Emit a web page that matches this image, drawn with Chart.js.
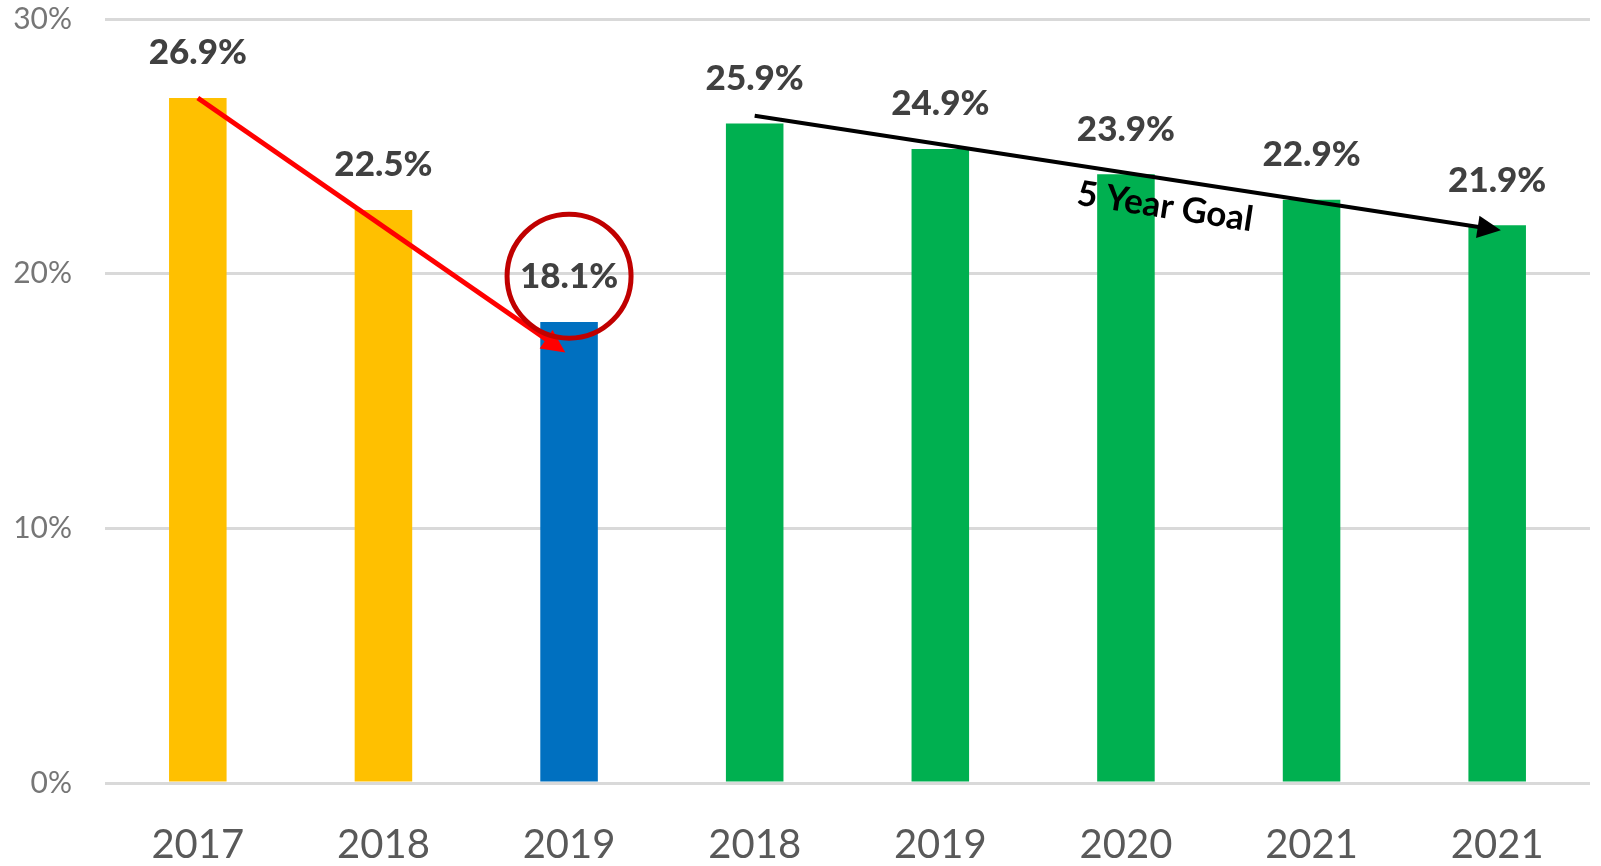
<!DOCTYPE html>
<html>
<head>
<meta charset="utf-8">
<script src="https://cdn.jsdelivr.net/npm/chart.js@4.4.1/dist/chart.umd.min.js"></script>
<style>
  html, body { margin: 0; padding: 0; background: #fff; }
  #wrap { position: relative; width: 1601px; height: 866px; }
</style>
</head>
<body>
<div id="wrap"><canvas id="chart"></canvas></div>
<script>
// categories and values
const years = ["2017", "2018", "2019", "2018", "2019", "2020", "2021", "2021"];
const rates = [26.9, 22.5, 18.1, 25.9, 24.9, 23.9, 22.9, 21.9];
const barColors = ["#FFC000", "#FFC000", "#0070C0", "#00B050", "#00B050", "#00B050", "#00B050", "#00B050"];
const yTicks = [0, 10, 20, 30];

// annotation endpoints, in (category index, value)
const dropArrow = { from: [0, 26.9], to: [1.98, 16.9] };
const goalArrow = { from: [3, 26.2], to: [7.02, 21.7] };
const circleAt = [2, 19.9];
const goalText = "5 Year Goal";

function arrow(ctx, x1, y1, x2, y2, color, width, head) {
  const a = Math.atan2(y2 - y1, x2 - x1);
  ctx.save();
  ctx.strokeStyle = color;
  ctx.fillStyle = color;
  ctx.lineWidth = width;
  ctx.beginPath();
  ctx.moveTo(x1, y1);
  ctx.lineTo(x2 - Math.cos(a) * head * 0.8, y2 - Math.sin(a) * head * 0.8);
  ctx.stroke();
  ctx.beginPath();
  ctx.moveTo(x2, y2);
  ctx.lineTo(x2 - head * Math.cos(a - 0.45), y2 - head * Math.sin(a - 0.45));
  ctx.lineTo(x2 - head * Math.cos(a + 0.45), y2 - head * Math.sin(a + 0.45));
  ctx.closePath();
  ctx.fill();
  ctx.restore();
}

const labelsPlugin = {
  id: "valueLabels",
  afterDatasetsDraw(chart) {
    const ctx = chart.ctx;
    const meta = chart.getDatasetMeta(0);
    ctx.save();
    ctx.font = "900 35px Lato";
    ctx.fillStyle = "#404040";
    ctx.textAlign = "center";
    ctx.textBaseline = "middle";
    meta.data.forEach((bar, i) => {
      ctx.fillText(rates[i].toFixed(1) + "%", bar.x, bar.y - 45);
    });
    ctx.restore();
  }
};

const annotationPlugin = {
  id: "annotations",
  afterDraw(chart) {
    const ctx = chart.ctx;
    const xs = chart.scales.x, ys = chart.scales.y;
    const px = (p) => [xs.getPixelForValue(p[0]), ys.getPixelForValue(p[1])];

    // red drop arrow
    const [a1, b1] = px(dropArrow.from), [a2, b2] = px(dropArrow.to);
    arrow(ctx, a1, b1, a2, b2, "#FF0000", 5, 26);

    // circle around 2019 value
    const [cx, cy] = px(circleAt);
    ctx.save();
    ctx.strokeStyle = "#C00000";
    ctx.lineWidth = 5;
    ctx.beginPath();
    ctx.arc(cx, cy, 62, 0, Math.PI * 2);
    ctx.stroke();
    ctx.restore();

    // goal arrow
    const [g1, h1] = px(goalArrow.from), [g2, h2] = px(goalArrow.to);
    arrow(ctx, g1, h1, g2, h2, "#000000", 4, 26);

    // goal text, rotated along the arrow
    const ang = Math.atan2(h2 - h1, g2 - g1);
    const tx = g1 + (g2 - g1) * 0.55, ty = h1 + (h2 - h1) * 0.55 + 28;
    ctx.save();
    ctx.translate(tx, ty);
    ctx.rotate(ang);
    ctx.font = "bold 35px Lato";
    ctx.fillStyle = "#000";
    ctx.textAlign = "center";
    ctx.textBaseline = "middle";
    ctx.fillText(goalText, 0, 0);
    ctx.restore();
  }
};

new Chart(document.getElementById("chart"), {
  type: "bar",
  data: {
    labels: years,
    datasets: [{
      data: rates,
      backgroundColor: barColors,
      borderWidth: 0,
      categoryPercentage: 1,
      barPercentage: 0.31
    }]
  },
  options: {
    responsive: true,
    maintainAspectRatio: false,
    animation: false,
    layout: { padding: { top: 19, right: 11, bottom: 0, left: 0 } },
    plugins: {
      legend: { display: false },
      tooltip: { enabled: false }
    },
    scales: {
      x: {
        grid: { display: false },
        border: { display: false },
        ticks: {
          color: "#595959",
          font: { family: "Lato", size: 40 },
          padding: 30
        },
        afterFit: (s) => { s.height = 83; }
      },
      y: {
        min: 0,
        max: 30,
        afterBuildTicks: (s) => { s.ticks = yTicks.map(v => ({ value: v })); },
        grid: { color: "#D9D9D9", lineWidth: 3, drawTicks: false },
        border: { display: false },
        ticks: {
          color: "#767676",
          font: { family: "Lato", size: 30 },
          padding: 33,
          callback: (v) => v + "%"
        },
        afterFit: (s) => { s.width = 105; s.paddingTop = 0; s.paddingBottom = 0; }
      }
    }
  },
  plugins: [labelsPlugin, annotationPlugin]
});
</script>
</body>
</html>
